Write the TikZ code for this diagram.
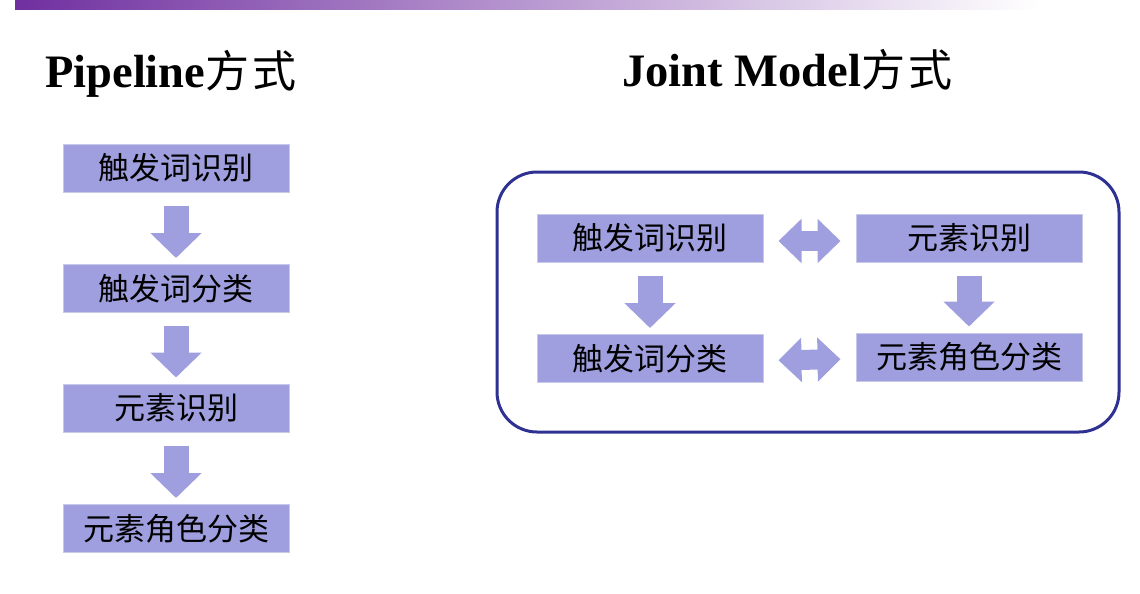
\documentclass[tikz,border=0pt]{standalone}
\usepackage{fontspec}
\setmainfont{Liberation Serif}
\newfontfamily\cjk{Noto Sans CJK SC}
\usetikzlibrary{arrows.meta}
\definecolor{barpurple}{RGB}{112,48,160}
\definecolor{boxfill}{RGB}{159,159,224}
\definecolor{boxedge}{RGB}{200,200,232}
\definecolor{framenavy}{RGB}{46,49,146}
\newcommand{\waytext}{{\cjk\mdseries\fontsize{44}{50}\selectfont 方\hspace{3pt}式}}

\begin{document}
\begin{tikzpicture}[x=1pt,y=-1pt,
    stepbox/.style={fill=boxfill,draw=boxedge,line width=1pt,minimum width=226pt,minimum height=48pt,inner sep=0pt,font=\cjk\fontsize{31}{31}\selectfont},
    titletext/.style={anchor=base west,inner sep=0pt,font=\bfseries\fontsize{46.5}{50}\selectfont},
    downarrow/.style={draw=boxfill,line width=25pt,-{Triangle[width=50pt,length=25pt]},shorten <=13pt,shorten >=6pt},
    twoarrow/.style={draw=boxfill,line width=20pt,{Triangle[width=43pt,length=23pt]}-{Triangle[width=43pt,length=23pt]},shorten <=15pt,shorten >=15pt}]
            \useasboundingbox (0,0) rectangle (1140,594);
            \shade [left color=barpurple,right color=white] (15,0) rectangle (1040,10);
            \node [titletext] (tpipe) at (45,87) {Pipeline\waytext};
            \node [titletext] (tjoint) at (622,86) {Joint Model\waytext};
            \node [stepbox] (p1) at (176,168) {触发词识别};
            \node [stepbox] (p2) at (176,288.5) {触发词分类};
            \node [stepbox] (p3) at (176,408) {元素识别};
            \node [stepbox] (p4) at (176,528.5) {元素角色分类};
            \foreach \a/\b in {p1/p2,p2/p3,p3/p4}
                \draw [downarrow] (\a.south) -- (\b.north);
            \draw [framenavy,line width=3pt,rounded corners=40pt] (497,172) rectangle (1119,432);
            \node [stepbox] (j1) at (650,238) {触发词识别};
            \node [stepbox] (j2) at (650,358.5) {触发词分类};
            \node [stepbox] (j3) at (969,238) {元素识别};
            \node [stepbox] (j4) at (969,357) {元素角色分类};
            \draw [downarrow] (j1.south) -- (j2.north);
            \draw [downarrow] (j3.south) -- (j4.north);
            \draw [twoarrow] ([yshift=-3pt]j1.east) -- ([yshift=-3pt]j3.west);
            \draw [twoarrow] ([yshift=-2pt]j2.east) -- ([yshift=-2pt]j4.west);
        \end{tikzpicture}
\end{document}
